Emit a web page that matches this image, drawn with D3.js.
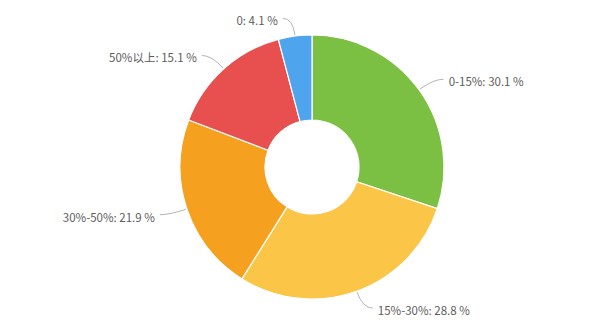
<!DOCTYPE html>
<html>
<head>
<meta charset="utf-8">
<script src="https://cdn.jsdelivr.net/npm/d3@7/dist/d3.min.js"></script>
<style>
  html, body { margin: 0; padding: 0; background: #fff; }
  svg { display: block; }
</style>
</head>
<body>
<svg id="chart" width="600" height="332"></svg>
<script>
// Share of each range, clockwise from 12 o'clock
const categories = ["0-15%", "15%-30%", "30%-50%", "50%以上", "0"];
const shares = [30.1, 28.8, 21.9, 15.1, 4.1];
const colors = ["#7cc043", "#fbc547", "#f5a11f", "#e84f4f", "#4ea5ee"];

const width = 600, height = 332;
const cx = 312, cy = 167;
const outerR = 132, innerR = 47;

const svg = d3.select("#chart");
const g = svg.append("g").attr("transform", `translate(${cx},${cy})`);

const data = categories.map((c, i) => ({ name: c, value: shares[i], color: colors[i] }));

const pie = d3.pie().value(d => d.value).sort(null);
const arcs = pie(data);

const arc = d3.arc().innerRadius(innerR).outerRadius(outerR);

g.selectAll("path.slice")
  .data(arcs)
  .enter().append("path")
  .attr("class", "slice")
  .attr("d", arc)
  .attr("fill", d => d.data.color)
  .attr("stroke", "#fff")
  .attr("stroke-width", 1.2);

// Leader lines and labels
const len1 = 18, len2 = 10;
const pt = (a, r) => [Math.sin(a) * r, -Math.cos(a) * r];

arcs.forEach(d => {
  const mid = (d.startAngle + d.endAngle) / 2;
  const right = Math.sin(mid) >= 0;
  const p0 = pt(mid, outerR + 1);
  const p1 = pt(mid, outerR + len1);
  const p2 = [p1[0] + (right ? len2 : -len2), p1[1]];

  g.append("path")
    .attr("d", `M${p0[0]},${p0[1]} Q${p1[0]},${p1[1]} ${p2[0]},${p2[1]}`)
    .attr("fill", "none")
    .attr("stroke", "#b5b5b5")
    .attr("stroke-width", 1);

  g.append("text")
    .attr("x", p2[0] + (right ? 5 : -5))
    .attr("y", p2[1] + 3)
    .attr("dy", "0.35em")
    .attr("text-anchor", right ? "start" : "end")
    .attr("font-family", "'Noto Sans CJK SC', 'Open Sans', sans-serif")
    .attr("font-size", 11.5)
    .attr("fill", "#5c5c5c")
    .text(`${d.data.name}: ${d3.format(".1f")(d.data.value)} %`);
});
</script>
</body>
</html>
